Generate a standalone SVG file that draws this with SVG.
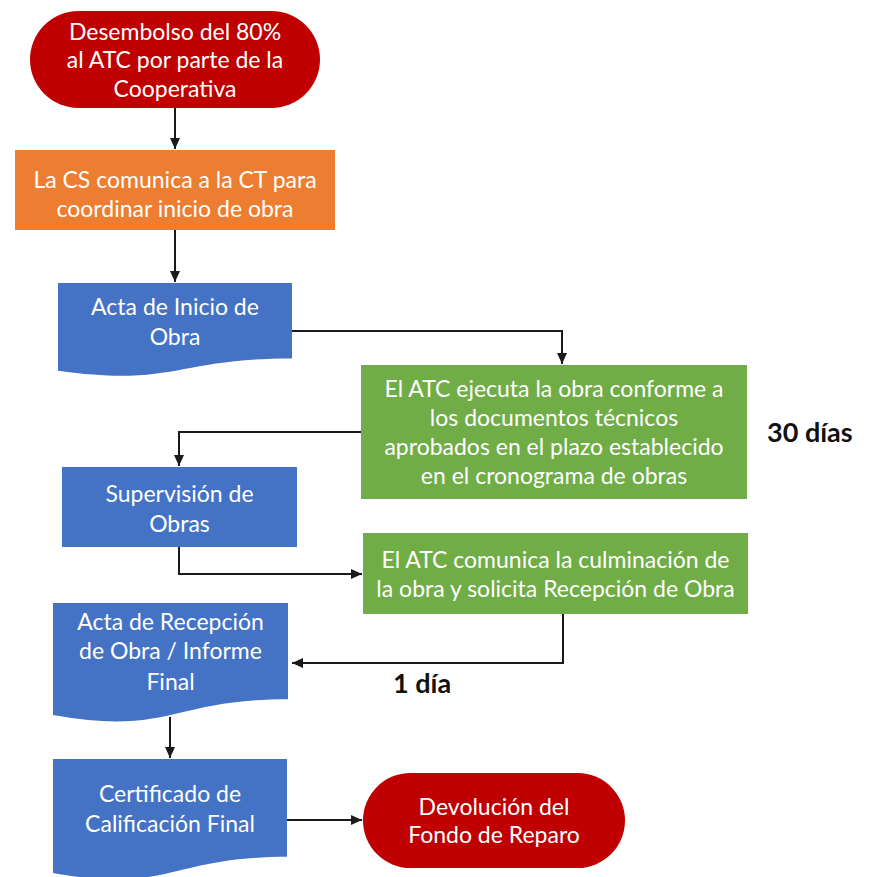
<svg xmlns="http://www.w3.org/2000/svg" width="881" height="877" viewBox="0 0 881 877">
  <style>
    .red { fill: #C00000; }
    .orange { fill: #ED7D31; }
    .blue { fill: #4472C4; }
    .green { fill: #70AD47; }
    .lbl { font-family: Lato, "Open Sans", "Liberation Sans", sans-serif; font-size: 23px; fill: #FFFFFF; text-anchor: middle; }
    .note { font-family: Lato, "Open Sans", "Liberation Sans", sans-serif; font-size: 27px; font-weight: bold; fill: #111111; }
    .conn { fill: none; stroke: #1A1A1A; stroke-width: 2; marker-end: url(#arrow); }
  </style>
  <defs>
    <marker id="arrow" markerUnits="userSpaceOnUse" markerWidth="11" markerHeight="10" refX="11" refY="5" orient="auto">
      <path d="M0,0 L11,5 L0,10 Z" fill="#1A1A1A"/>
    </marker>
  </defs>
  <rect width="881" height="877" fill="#FFFFFF"/>

  <g id="connectors">
    <path class="conn" d="M175,108 V149"/>
    <path class="conn" d="M175,230 V282"/>
    <path class="conn" d="M292,331 H562 V364"/>
    <path class="conn" d="M361,432 H179 V466"/>
    <path class="conn" d="M179,547 V574 H362"/>
    <path class="conn" d="M563,614 V663 H292"/>
    <path class="conn" d="M170,717 V758"/>
    <path class="conn" d="M287,820 H362"/>
  </g>

  <g id="desembolso">
    <rect class="red" x="30" y="11" width="290" height="97" rx="48.5" ry="48.5"/>
    <text class="lbl" x="175" y="40">Desembolso del 80%</text>
    <text class="lbl" x="175" y="68">al ATC por parte de la</text>
    <text class="lbl" x="175" y="97">Cooperativa</text>
  </g>

  <g id="comunica-cs">
    <rect class="orange" x="15" y="150" width="320" height="80"/>
    <text class="lbl" x="175" y="188">La CS comunica a la CT para</text>
    <text class="lbl" x="175" y="217">coordinar inicio de obra</text>
  </g>

  <g id="acta-inicio">
    <path class="blue" d="M58,283 H292 V358.4 C175,358.4 175,387 58,370.8 Z"/>
    <text class="lbl" x="175" y="315">Acta de Inicio de</text>
    <text class="lbl" x="175" y="345">Obra</text>
  </g>

  <g id="ejecucion">
    <rect class="green" x="361" y="365" width="386" height="134"/>
    <text class="lbl" x="554" y="397">El ATC ejecuta la obra conforme a</text>
    <text class="lbl" x="554" y="426">los documentos técnicos</text>
    <text class="lbl" x="554" y="455">aprobados en el plazo establecido</text>
    <text class="lbl" x="554" y="484">en el cronograma de obras</text>
  </g>
  <text class="note" x="767" y="442">30 días</text>

  <g id="supervision">
    <rect class="blue" x="62" y="467" width="235" height="80"/>
    <text class="lbl" x="179.5" y="502">Supervisión de</text>
    <text class="lbl" x="179.5" y="532">Obras</text>
  </g>

  <g id="culminacion">
    <rect class="green" x="363" y="533" width="385" height="81"/>
    <text class="lbl" x="555.5" y="568">El ATC comunica la culminación de</text>
    <text class="lbl" x="555.5" y="597">la obra y solicita Recepción de Obra</text>
  </g>

  <g id="acta-recepcion">
    <path class="blue" d="M53,603 H288 V699.2 C170.5,699.2 170.5,735.8 53,715.1 Z"/>
    <text class="lbl" x="170.5" y="630">Acta de Recepción</text>
    <text class="lbl" x="170.5" y="659">de Obra / Informe</text>
    <text class="lbl" x="170.5" y="690">Final</text>
  </g>
  <text class="note" x="393" y="693">1 día</text>

  <g id="certificado">
    <path class="blue" d="M53,759 H287 V856.8 C170,856.8 170,894 53,873 Z"/>
    <text class="lbl" x="170" y="802">Certificado de</text>
    <text class="lbl" x="170" y="832">Calificación Final</text>
  </g>

  <g id="devolucion">
    <rect class="red" x="363" y="773" width="262" height="95" rx="47.5" ry="47.5"/>
    <text class="lbl" x="494" y="815">Devolución del</text>
    <text class="lbl" x="494" y="843">Fondo de Reparo</text>
  </g>
</svg>
